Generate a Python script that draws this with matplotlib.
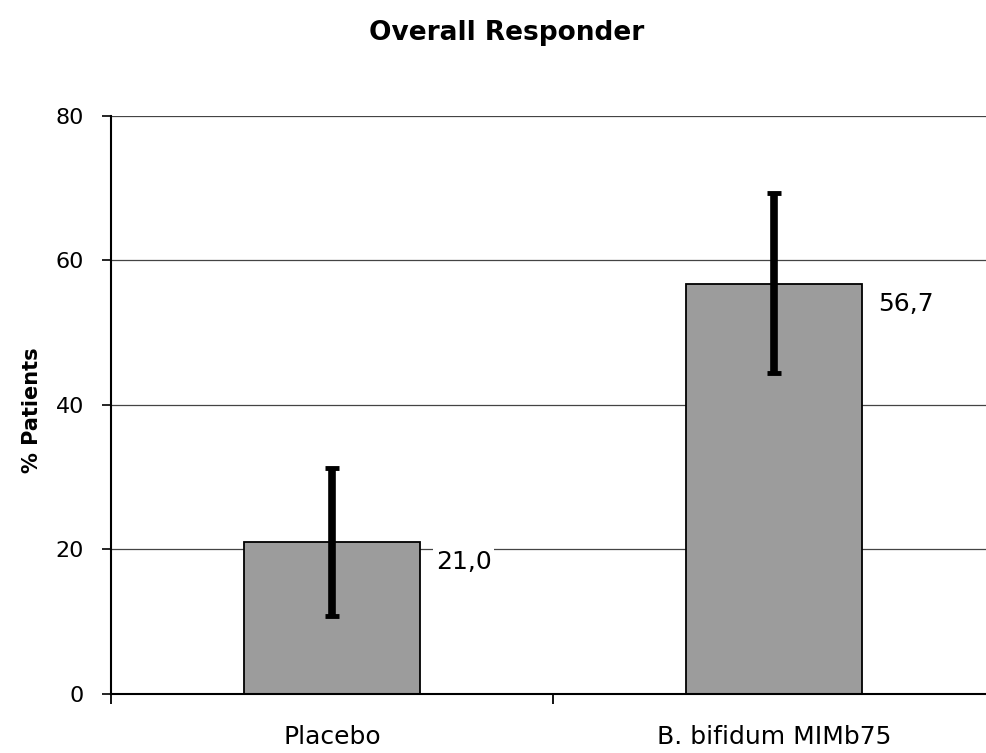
import matplotlib
matplotlib.use("Agg")
import matplotlib.pyplot as plt

# data
groups = ["Placebo", "B. bifidum MIMb75"]
responders = [21.0, 56.7]
err_low = [10.2, 12.3]
err_high = [10.3, 12.6]
value_labels = ["21,0", "56,7"]
yticks = [0, 20, 40, 60, 80]

plt.rcParams['font.family'] = ['DejaVu Sans']

fig = plt.figure(figsize=(9.86, 7.53), dpi=100)
ax = fig.add_axes([0.1126, 0.0784, 0.8966, 0.7676])

x = list(range(len(groups)))
ax.bar(x, responders, width=0.40, color='#9c9c9c', edgecolor='black', linewidth=1.3, zorder=2)
ax.errorbar(x, responders, yerr=[err_low, err_high], fmt='none', ecolor='black',
            elinewidth=5.5, capsize=5, capthick=3.5, zorder=3)

for xi, val, lab in zip(x, responders, value_labels):
    ax.annotate(lab, xy=(xi + 0.2, val), xytext=(11, -14), textcoords='offset points',
                ha='left', va='center', fontsize=18, zorder=4,
                bbox=dict(facecolor='white', edgecolor='none', pad=2))

ax.set_xlim(-0.5, 1.5)
ax.set_ylim(0, 80)
ax.set_yticks(yticks)
ax.set_yticklabels([str(t) for t in yticks], fontsize=16)
ax.tick_params(axis='y', direction='out', length=6.5, width=1.2, pad=13)

# category boundary ticks on the x axis, category names as minor labels
ax.set_xticks([-0.5, 0.5, 1.5])
ax.set_xticklabels([])
ax.tick_params(axis='x', which='major', direction='out', length=7, width=1.3)
ax.set_xticks(x, minor=True)
ax.set_xticklabels(groups, minor=True, fontsize=18)
ax.tick_params(axis='x', which='minor', length=0, pad=22)

ax.yaxis.grid(True, color='#444444', linewidth=0.9)
ax.set_axisbelow(True)
for s in ['top', 'right']:
    ax.spines[s].set_visible(False)
ax.spines['left'].set_linewidth(1.5)
ax.spines['bottom'].set_linewidth(1.5)

fig.text(0.514, 1 - 33 / 753, "Overall Responder", ha='center', va='center',
         fontsize=19, fontweight='bold')
fig.text(0.0325, 1 - 410 / 753, "% Patients", ha='center', va='center',
         rotation=90, fontsize=15, fontweight='bold')

fig.savefig("out.png", dpi=100)
